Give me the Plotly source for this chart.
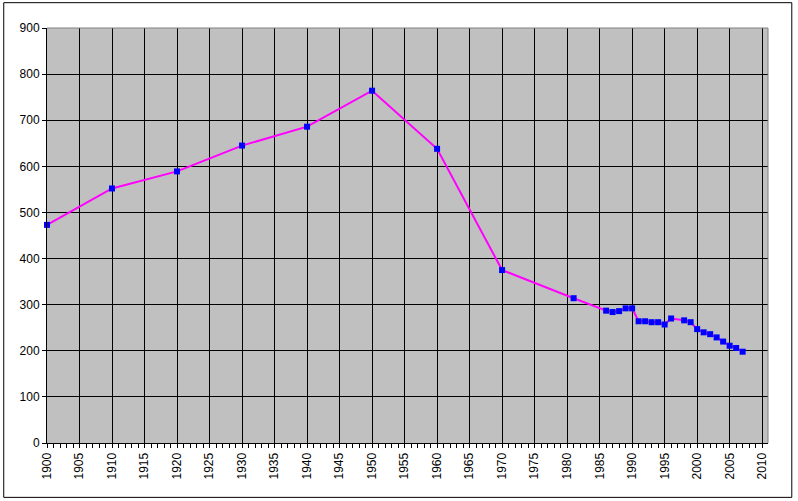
import plotly.graph_objects as go

# data
years = [1900, 1910, 1920, 1930, 1940, 1950, 1960, 1970, 1981,
         1986, 1987, 1988, 1989, 1990, 1991, 1992, 1993, 1994, 1995, 1996,
         1998, 1999, 2000, 2001, 2002, 2003, 2004, 2005, 2006, 2007]
values = [473, 552, 589, 645, 686, 764, 638, 375, 314,
          287, 284, 286, 292, 292, 264, 264, 262, 262, 257, 270,
          266, 262, 247, 240, 236, 229, 220, 211, 206, 198]

x_ticks = list(range(1900, 2011, 5))
y_ticks = list(range(0, 901, 100))

fig = go.Figure()

fig.add_trace(go.Scatter(
    x=years,
    y=values,
    mode='lines+markers',
    line=dict(color='#FF00FF', width=2),
    marker=dict(symbol='square', size=6, color='#0000FF'),
    cliponaxis=False,
    showlegend=False,
))

fig.update_layout(
    width=798,
    height=501,
    paper_bgcolor='white',
    plot_bgcolor='#C0C0C0',
    margin=dict(l=47, r=30, t=28, b=58),
    font=dict(family='Liberation Sans, Arial', size=12, color='black'),
    showlegend=False,
)

fig.update_xaxes(
    range=[1900, 2010.9],
    tickvals=x_ticks,
    ticktext=[str(t) for t in x_ticks],
    tickangle=-90,
    showgrid=True,
    gridcolor='black',
    gridwidth=1,
    showline=True,
    linecolor='black',
    linewidth=1,
    ticks='outside',
    ticklen=4,
    tickcolor='black',
    minor=dict(dtick=1, tick0=1900, ticks='outside', ticklen=4,
               tickcolor='black', showgrid=False),
    zeroline=False,
)

fig.update_yaxes(
    range=[0, 900],
    tickvals=y_ticks,
    showgrid=True,
    gridcolor='black',
    gridwidth=1,
    showline=True,
    linecolor='black',
    linewidth=1,
    ticks='outside',
    ticklen=4,
    tickcolor='black',
    zeroline=False,
)

# gray top/right edge of the plot area
fig.add_shape(type='line', xref='paper', yref='paper', x0=0, x1=1, y0=1, y1=1,
              line=dict(color='#808080', width=1))
fig.add_shape(type='line', xref='paper', yref='paper', x0=1, x1=1, y0=0, y1=1,
              line=dict(color='#808080', width=1))

# outer frame around the whole chart
fig.add_shape(type='rect', xref='paper', yref='paper',
              x0=-0.060, x1=1.033, y0=-0.131, y1=1.061,
              line=dict(color='black', width=1))

fig.write_html("out.html", config={'displayModeBar': False},
               post_script="document.body.style.margin='0';")
